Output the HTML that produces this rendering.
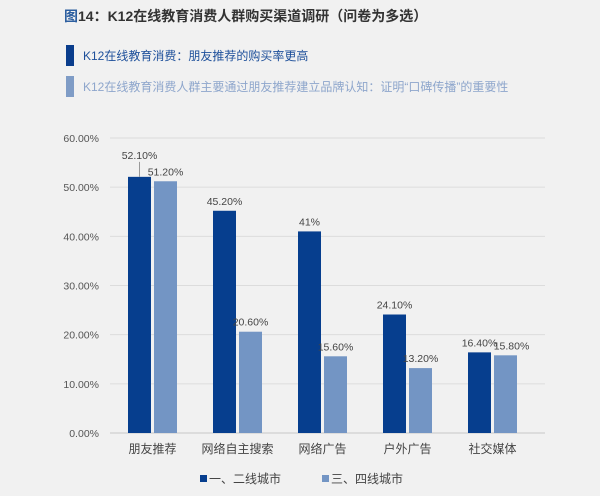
<!DOCTYPE html>
<html><head><meta charset="utf-8"><style>
body{margin:0;background:#f1f1f1;}
#wrap{position:relative;width:600px;height:496px;background:#f1f1f1;font-family:"Liberation Sans","Noto Sans CJK SC",sans-serif;}
.t{position:absolute;white-space:nowrap;}
</style></head><body>
<div id="wrap">
<div class="t" style="left:64px;top:6px;font-size:14px;font-weight:bold;color:#333;"><span style="color:#2d5fa0">图</span>14：K12在线教育消费人群购买渠道调研（问卷为多选）</div>
<div style="position:absolute;left:66px;top:45px;width:8px;height:21px;background:#0a3d8c"></div>
<div class="t" style="left:83px;top:47px;font-size:12px;color:#1d4f9a;">K12在线教育消费：朋友推荐的购买率更高</div>
<div style="position:absolute;left:66px;top:76px;width:8px;height:21px;background:#7f9cc6"></div>
<div class="t" style="left:83px;top:78px;font-size:12px;color:#8ea6cc;">K12在线教育消费人群主要通过朋友推荐建立品牌认知：证明“口碑传播”的重要性</div>
<svg id="chart" width="600" height="496" style="position:absolute;left:0;top:0"></svg>
</div>
<script>
const categories=["朋友推荐","网络自主搜索","网络广告","户外广告","社交媒体"];
const seriesA=[52.1,45.2,41,24.1,16.4];
const seriesB=[51.2,20.6,15.6,13.2,15.8];
const labelsA=["52.10%","45.20%","41%","24.10%","16.40%"];
const labelsB=["51.20%","20.60%","15.60%","13.20%","15.80%"];
const yTicks=[0,10,20,30,40,50,60];
const yTickLabels=["0.00%","10.00%","20.00%","30.00%","40.00%","50.00%","60.00%"];
const svg=document.getElementById('chart');
const NS='http://www.w3.org/2000/svg';
const x0=110,x1=535,yb=433,yt=138,ymax=60;
const y=v=>yb-(v/ymax)*(yb-yt);
const bw=(x1-x0)/categories.length;
const xc=i=>x0+bw*(i+0.5);
function mk(tag,attrs){const e=document.createElementNS(NS,tag);for(const k in attrs)e.setAttribute(k,attrs[k]);svg.appendChild(e);return e;}
yTicks.forEach((t,i)=>{
 const l=mk('line',{x1:x0,x2:x1+10,y1:y(t),y2:y(t),stroke:i==0?'#c8c8c8':'#dcdcdc','stroke-width':1});
 
 
 const tx=mk('text',{x:99,y:y(t)+4,'text-anchor':'end','font-size':10.5,fill:'#555','font-family':'Liberation Sans, sans-serif'});
 tx.textContent=yTickLabels[i];
 
 
});
const W=23;
categories.forEach((c,i)=>{
 const cx=xc(i);
 const a=mk('rect',{x:cx-W-1.5,y:y(seriesA[i]),width:W,height:yb-y(seriesA[i]),fill:'#063e8e'});
 
 
 const b=mk('rect',{x:cx+1.5,y:y(seriesB[i]),width:W,height:yb-y(seriesB[i]),fill:'#7395c4'});
 
 
 const la=mk('text',{x:cx-W/2-1.5,y:y(seriesA[i])-(i==0?18:6),'text-anchor':'middle','font-size':10.5,fill:'#444','font-family':'Liberation Sans, sans-serif'});
 la.textContent=labelsA[i];
 
 
 if(i==0){const ll=mk('line',{x1:cx-W/2-1.5,x2:cx-W/2-1.5,y1:y(seriesA[i])-15,y2:y(seriesA[i]),stroke:'#999'});
 
 }
 const lb=mk('text',{x:cx+W/2+1.5+(i==4?6:0),y:y(seriesB[i])-6,'text-anchor':'middle','font-size':10.5,fill:'#444','font-family':'Liberation Sans, sans-serif'});
 lb.textContent=labelsB[i];
 
 
 const cl=mk('text',{x:cx,y:453,'text-anchor':'middle','font-size':12,fill:'#444','font-family':'Liberation Sans, Noto Sans CJK SC, sans-serif'});
 cl.textContent=c;
 
 
});
const lg=[["一、二线城市",'#063e8e',200],["三、四线城市",'#7395c4',322]];
lg.forEach(([t,col,lx])=>{
 const r=mk('rect',{x:lx,y:475,width:7,height:7,fill:col});
 
 
 const tx=mk('text',{x:lx+9,y:483,'font-size':12,fill:'#444','font-family':'Liberation Sans, Noto Sans CJK SC, sans-serif'});
 tx.textContent=t;
 
 
});
</script>
</body></html>
